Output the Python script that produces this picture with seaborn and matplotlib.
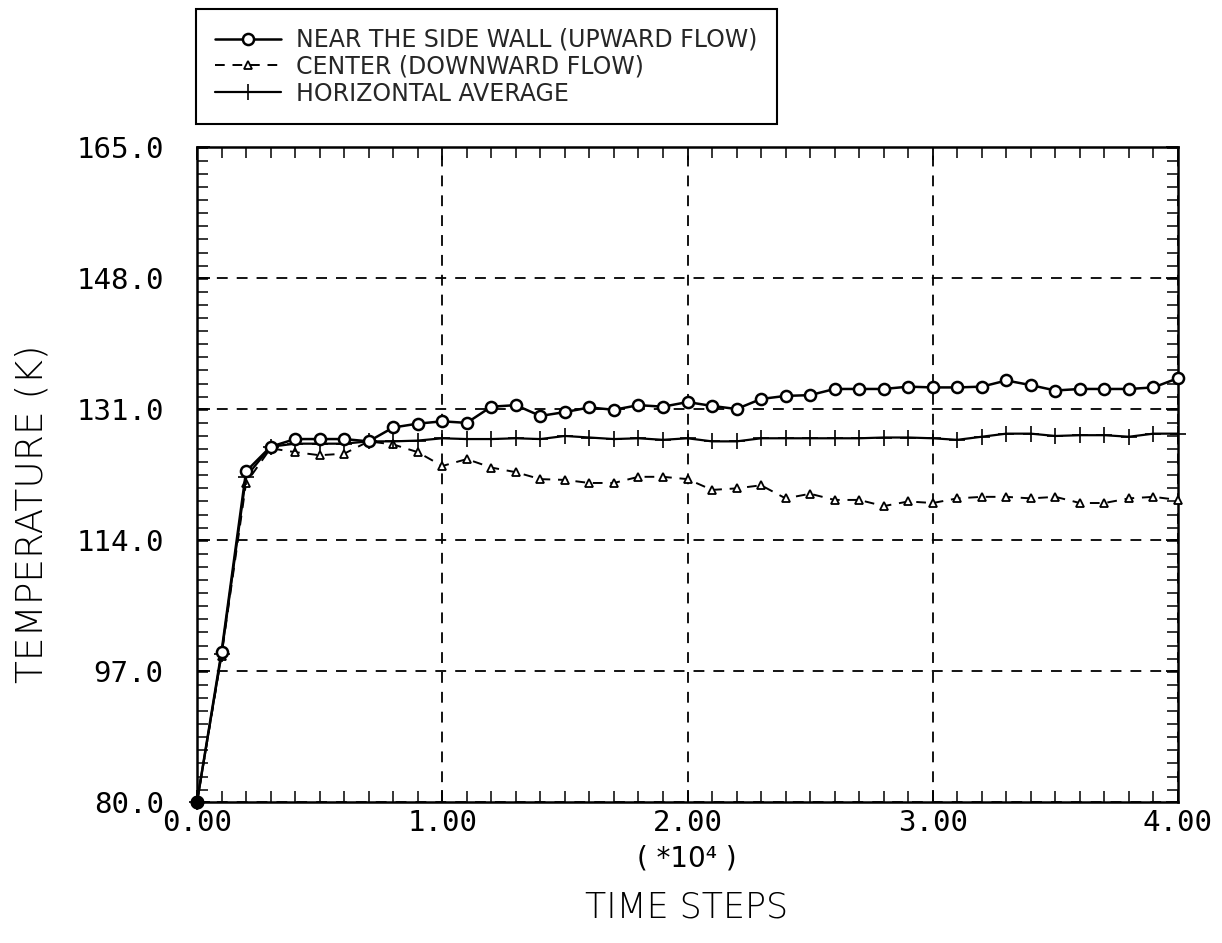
import numpy as np
import pandas as pd
import matplotlib
matplotlib.use("Agg")
import matplotlib.pyplot as plt
import seaborn as sns
from matplotlib.ticker import MultipleLocator, FormatStrFormatter

# ---- data (time steps in units of 1e4) ----
time_steps = [0.0, 0.1, 0.2, 0.3, 0.4, 0.5, 0.6, 0.7, 0.8, 0.9,
              1.0, 1.1, 1.2, 1.3, 1.4, 1.5, 1.6, 1.7, 1.8, 1.9,
              2.0, 2.1, 2.2, 2.3, 2.4, 2.5, 2.6, 2.7, 2.8, 2.9,
              3.0, 3.1, 3.2, 3.3, 3.4, 3.5, 3.6, 3.7, 3.8, 3.9, 4.0]

near_wall = [80.0, 99.5, 122.9, 126.1, 127.1, 127.1, 127.1, 126.8, 128.6, 129.1,
             129.4, 129.2, 131.3, 131.5, 130.1, 130.6, 131.2, 130.9, 131.5, 131.3,
             131.9, 131.4, 131.0, 132.3, 132.7, 132.8, 133.6, 133.6, 133.6, 133.9,
             133.8, 133.8, 133.9, 134.7, 134.1, 133.4, 133.6, 133.6, 133.6, 133.8, 135.0]

center = [80.0, 99.0, 121.4, 125.9, 125.4, 125.0, 125.2, 126.8, 126.4, 125.4,
          123.6, 124.5, 123.4, 122.8, 121.9, 121.8, 121.4, 121.4, 122.2, 122.2,
          121.9, 120.5, 120.7, 121.1, 119.4, 120.0, 119.2, 119.2, 118.4, 119.0,
          118.8, 119.4, 119.6, 119.6, 119.4, 119.6, 118.8, 118.8, 119.4, 119.6, 119.2]

horiz_avg = [80.0, 99.2, 122.2, 126.1, 126.5, 126.5, 126.5, 126.8, 126.8, 126.9,
             127.2, 127.1, 127.1, 127.2, 127.1, 127.5, 127.3, 127.1, 127.2, 127.0,
             127.2, 126.8, 126.8, 127.2, 127.2, 127.2, 127.2, 127.2, 127.3, 127.3,
             127.2, 127.0, 127.4, 127.8, 127.8, 127.5, 127.6, 127.6, 127.4, 127.8, 127.8]

labels = ["NEAR THE SIDE WALL (UPWARD FLOW)",
          "CENTER (DOWNWARD FLOW)",
          "HORIZONTAL AVERAGE"]
y_ticks = [80.0, 97.0, 114.0, 131.0, 148.0, 165.0]
x_ticks = [0.0, 1.0, 2.0, 3.0, 4.0]

df = pd.DataFrame({"t": time_steps, "wall": near_wall,
                   "center": center, "avg": horiz_avg})

sns.set_theme(style="white")
plt.rcParams["font.family"] = ["DejaVu Sans"]

fig = plt.figure(figsize=(12.22, 9.43), dpi=100)
ax = fig.add_axes([197/1222, 1-802/943, (1178-197)/1222, (802-147)/943])

sns.lineplot(data=df, x="t", y="wall", ax=ax, color="black", lw=1.8,
             marker="o", markersize=8, markerfacecolor="white",
             markeredgecolor="black", markeredgewidth=1.8, label=labels[0],
             clip_on=False, zorder=5)
sns.lineplot(data=df, x="t", y="center", ax=ax, color="black", lw=1.4,
             linestyle=(0, (5, 4)), marker="^", markersize=6,
             markerfacecolor="white", markeredgecolor="black",
             markeredgewidth=1.3, label=labels[1], clip_on=False, zorder=4)
sns.lineplot(data=df, x="t", y="avg", ax=ax, color="black", lw=1.6,
             marker="+", markersize=12, markeredgewidth=1.2,
             markeredgecolor="black", label=labels[2], clip_on=False, zorder=4)
# origin point drawn filled as in the reference
ax.plot(time_steps[:1], near_wall[:1], "o", color="black", markersize=9,
        clip_on=False, zorder=6)

ax.set_xlim(0, 4)
ax.set_ylim(80, 165)
ax.set_xticks(x_ticks)
ax.set_yticks(y_ticks)
ax.xaxis.set_minor_locator(MultipleLocator(0.1))
ax.yaxis.set_minor_locator(MultipleLocator(1.7))
ax.xaxis.set_major_formatter(FormatStrFormatter("%.2f"))
ax.yaxis.set_major_formatter(FormatStrFormatter("%.1f"))

ax.grid(True, which="major", color="black", linestyle=(0, (6, 5)), lw=1.3)
for s in ax.spines.values():
    s.set_color("black")
    s.set_linewidth(1.8)

ax.tick_params(which="both", direction="in", top=True, right=True,
               bottom=True, left=True, colors="black")
ax.tick_params(which="major", length=9, width=1.3)
ax.tick_params(which="minor", length=8, width=1.1)
ax.tick_params(axis="y", which="major", pad=24)
ax.tick_params(axis="x", which="major", pad=5)
for lab in ax.get_xticklabels() + ax.get_yticklabels():
    lab.set_family("DejaVu Sans Mono")
    lab.set_fontsize(21)
    lab.set_fontweight("light")

ax.set_xlabel("")
ax.set_ylabel("TEMPERATURE (K)", fontsize=27, fontweight="light",
              color="black")
ax.yaxis.set_label_coords(-0.15, 0.44)
fig.text(687/1222, 1-858/943, "( *10\u2074 )", ha="center", va="center",
         fontsize=20, color="black")
fig.text(687/1222, 1-907/943, "TIME STEPS", ha="center", va="center",
         fontsize=25, fontweight="light", color="black")

leg = ax.legend(loc="upper left", bbox_to_anchor=(196/1222, 1-9/943),
                bbox_transform=fig.transFigure, borderaxespad=0,
                frameon=True, fancybox=False, edgecolor="black",
                framealpha=1, fontsize=17, handlelength=2.8,
                labelspacing=0.12, borderpad=0.8, handletextpad=0.65)
leg.get_frame().set_linewidth(1.5)

fig.savefig("out.png", dpi=100, facecolor="white")
